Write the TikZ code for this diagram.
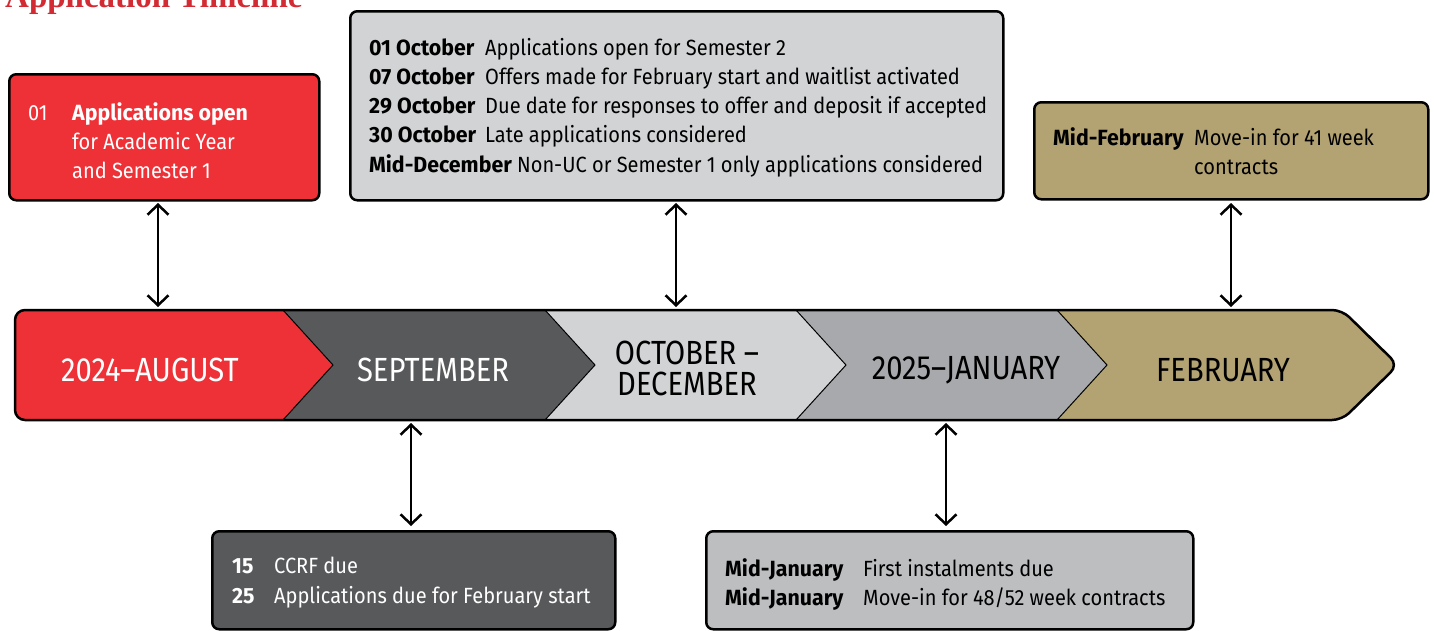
\documentclass[tikz,border=0pt]{standalone}
\usepackage{fontspec}
\setmainfont[FakeStretch=0.91, BoldFeatures={FakeStretch=0.97}]{Fira Sans}
\newfontfamily\bandfont[FakeStretch=0.87]{Fira Sans}
\newfontfamily\titlefont{Liberation Serif}
\usetikzlibrary{arrows.meta}
\definecolor{ucred}{HTML}{EE3137}
\definecolor{titlered}{HTML}{D22B33}
\definecolor{darkgr}{HTML}{58595B}
\definecolor{lightgr}{HTML}{D1D3D4}
\definecolor{midgr}{HTML}{A7A9AC}
\definecolor{boxgr}{HTML}{BCBEC0}
\definecolor{tan}{HTML}{B3A372}
\tikzset{
  box/.style={draw=black, line width=2.5pt, rounded corners=7pt, anchor=north west, inner sep=0pt},
  txt/.style={anchor=base west, inner sep=0pt, font=\fontsize{22}{26}\selectfont},
  lbl/.style={anchor=base west, inner sep=0pt, font=\fontsize{22}{26}\selectfont\bfseries},
  bandtxt/.style={font=\bandfont\fontsize{33.5}{31}\selectfont, align=center, inner sep=0pt},
  arr/.style={{Straight Barb[length=10pt,width=21pt]}-{Straight Barb[length=10pt,width=21pt]}, line width=2.5pt},
  sep/.style={line width=1pt}
}
\begin{document}
\begin{tikzpicture}[x=1pt,y=-1pt]
\useasboundingbox (0,0) rectangle (1434,630);
\clip (0,0) rectangle (1434,630);
% title (cut at the top, as in the source)
\node[anchor=base west, inner sep=0pt, text=titlered, font=\titlefont\bfseries\fontsize{33}{33}\selectfont] (title) at (5,7) {Application Timeline};

% band
\begin{scope}
\clip[rounded corners=10pt] (15,310) -- (1342,310) -- (1398,365) -- (1342,420) -- (15,420) -- cycle;
\fill[ucred] (0,310) -- (283,310) -- (333,365) -- (283,420) -- (0,420) -- cycle;
\fill[darkgr] (283,310) -- (545,310) -- (595,365) -- (545,420) -- (283,420) -- (333,365) -- cycle;
\fill[lightgr] (545,310) -- (796,310) -- (846,365) -- (796,420) -- (545,420) -- (595,365) -- cycle;
\fill[midgr] (796,310) -- (1057,310) -- (1107,365) -- (1057,420) -- (796,420) -- (846,365) -- cycle;
\fill[tan] (1057,310) -- (1434,310) -- (1434,420) -- (1057,420) -- (1107,365) -- cycle;
\end{scope}
\draw[sep] (283,310) -- (333,365) -- (283,420);
\draw[sep] (545,310) -- (595,365) -- (545,420);
\draw[sep] (796,310) -- (846,365) -- (796,420);
\draw[sep] (1057,310) -- (1107,365) -- (1057,420);
\draw[line width=2.5pt, rounded corners=10pt] (15,310) -- (1342,310) -- (1398,365) -- (1342,420) -- (15,420) -- cycle;

\node[bandtxt, text=white] (aug) at (150,370) {2024–AUGUST};
\node[bandtxt, text=white] (sep) at (433,370) {SEPTEMBER};
\node[bandtxt, text=black] (oct) at (687,368) {OCTOBER –\\DECEMBER};
\node[bandtxt, text=black] (jan) at (966,370) {2025–JANUARY};
\node[bandtxt, text=black] (feb) at (1223,370) {FEBRUARY};

% box 1
\node[box, fill=ucred, minimum width=310pt, minimum height=126pt] (b1) at (8,73) {};
\node[txt, text=white] (b1n) at (28,120) {01};
\node[lbl, text=white] (b1a) at (72,120) {Applications open};
\node[txt, text=white] (b1b) at (72,149) {for Academic Year};
\node[txt, text=white] (b1c) at (72,178) {and Semester 1};

% box 2
\node[box, fill=lightgr, minimum width=653pt, minimum height=189pt] (b2) at (349,10) {};
\node[lbl] (b2l1) at (369,55) {01 October};
\node[txt] (b2d1) at (485,55) {Applications open for Semester 2};
\node[lbl] (b2l2) at (369,84) {07 October};
\node[txt] (b2d2) at (485,84) {Offers made for February start and waitlist activated};
\node[lbl] (b2l3) at (369,113) {29 October};
\node[txt] (b2d3) at (485,113) {Due date for responses to offer and deposit if accepted};
\node[lbl] (b2l4) at (369,142) {30 October};
\node[txt] (b2d4) at (485,142) {Late applications considered};
\node[txt] (b2l5) at (369,172) {\bfseries Mid-December\mdseries{} Non-UC or Semester 1 only applications considered};

% box 3
\node[box, fill=tan, minimum width=394pt, minimum height=97pt] (b3) at (1033,101) {};
\node[lbl] (b3l) at (1053,145) {Mid-February};
\node[txt] (b3a) at (1194,145) {Move-in for 41 week};
\node[txt] (b3b) at (1194,174) {contracts};

% box 4
\node[box, fill=darkgr, minimum width=403pt, minimum height=98pt] (b4) at (211,530) {};
\node[lbl, text=white] (b4n1) at (232,573) {15};
\node[txt, text=white] (b4a) at (274,573) {CCRF due};
\node[lbl, text=white] (b4n2) at (232,603) {25};
\node[txt, text=white] (b4b) at (274,603) {Applications due for February start};

% box 5
\node[box, fill=boxgr, minimum width=487pt, minimum height=98pt] (b5) at (705,530) {};
\node[lbl] (b5l1) at (725,576) {Mid-January};
\node[txt] (b5a) at (863,576) {First instalments due};
\node[lbl] (b5l2) at (725,605) {Mid-January};
\node[txt] (b5b) at (863,605) {Move-in for 48/52 week contracts};

% connectors
\coordinate (c1t) at (158,203); \coordinate (c1b) at (158,307);
\coordinate (c2t) at (676,203); \coordinate (c2b) at (676,307);
\coordinate (c3t) at (1231,203); \coordinate (c3b) at (1231,307);
\coordinate (c4t) at (411,423); \coordinate (c4b) at (411,526);
\coordinate (c5t) at (946,423); \coordinate (c5b) at (946,526);
\draw[arr] (c1t) -- (c1b);
\draw[arr] (c2t) -- (c2b);
\draw[arr] (c3t) -- (c3b);
\draw[arr] (c4t) -- (c4b);
\draw[arr] (c5t) -- (c5b);
\end{tikzpicture}
\end{document}
